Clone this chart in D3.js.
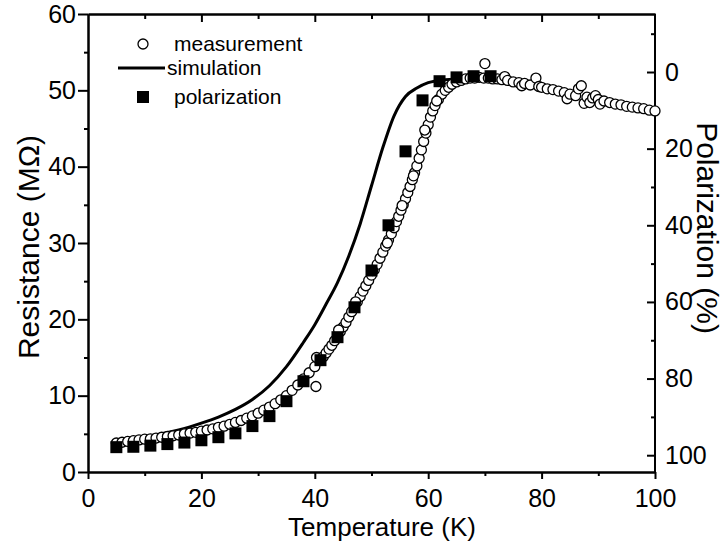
<!DOCTYPE html>
<html>
<head>
<meta charset="utf-8">
<script src="https://d3js.org/d3.v7.min.js"></script>
<style>
  body { margin: 0; background: #fff; }
  text { font-family: "Liberation Sans", Arial, sans-serif; fill: #000; }
</style>
</head>
<body>
<script>
  ////////////// Data //////////////

  // measured resistance (open circles)
  const measT = [5, 6, 7, 8, 9, 10, 11, 12, 13, 14, 15, 16, 17, 18, 19, 20, 21, 22, 23, 24, 25, 26, 27, 28, 29, 30,
    31, 32, 33, 34, 35, 36, 37, 38, 39, 40, 40.2, 40.3, 41, 41.5, 42, 42.5, 43, 43.5, 44, 44.5, 45, 45.5,
    46, 46.5, 47, 47.5, 48, 48.5, 49, 49.5, 50, 50.5, 51, 51.5, 52, 52.5, 53, 53.5, 54, 54.4, 54.8, 55.2,
    55.6, 56, 56.4, 56.8, 57.2, 57.6, 58, 58.4, 58.8, 59.2, 59.6, 60, 60.4, 60.8, 61.2, 61.8, 62.4, 63,
    63.6, 64.2, 65, 65.8, 66.6, 67.4, 68.2, 69, 69.8, 70, 70.6, 71.4, 72.2, 73, 73.5, 74, 75, 76, 76.5, 77, 78, 79,
    79.5, 80, 81, 82, 83, 84, 84.5, 85, 86, 86.5, 87, 87.5, 88, 88.5, 89, 89.5, 90, 90.3, 91, 92, 93, 94, 95, 96, 97, 98, 99, 100,
    // second pass through the transition (slightly offset)
    44.2, 47.2, 50.2, 52.8, 55.4, 57.4, 59.4, 61.5]
  const measR = [3.8, 3.9, 4.0, 4.1, 4.2, 4.3, 4.35, 4.45, 4.55, 4.65, 4.75, 4.85, 5.0, 5.1, 5.2, 5.35, 5.5, 5.65, 5.85, 6.0, 6.25, 6.5, 6.75, 7.05, 7.35, 7.7,
    8.1, 8.5, 8.95, 9.45, 10.0, 10.7, 11.4, 12.2, 13.0, 13.8, 11.2, 15.0, 14.6, 15.1, 15.6, 16.1, 16.6, 17.2, 17.8, 18.4, 19.0, 19.6,
    20.3, 21.0, 21.6, 22.3, 23.0, 23.7, 24.4, 25.1, 25.8, 26.5, 27.2, 28.0, 28.8, 29.6, 30.4, 31.2, 32.0, 32.8, 33.5, 34.3,
    35.0, 35.8, 36.6, 37.4, 38.3, 39.2, 40.1, 41.1, 42.2, 43.3, 44.4, 45.5, 46.5, 47.3, 48.0, 48.8, 49.5, 50.0,
    50.4, 50.8, 51.1, 51.3, 51.5, 51.6, 51.6, 51.7, 51.6, 53.5, 51.6, 51.5, 51.5, 51.4, 51.8, 51.3, 51.1, 51.0, 50.6, 50.9, 50.7, 51.6,
    50.5, 50.4, 50.2, 50.1, 49.9, 49.7, 48.9, 49.5, 49.3, 50.2, 50.6, 48.3, 49.1, 48.4, 49.0, 49.3, 48.8, 48.2, 48.6, 48.4, 48.2, 48.1, 47.9, 47.8, 47.7, 47.6, 47.4, 47.3,
    18.6, 22.3, 26.4, 30.0, 34.9, 38.8, 44.8, 48.6]

  // simulated resistance (solid line)
  const simT = [5, 8, 10, 13, 16, 20, 23, 26, 29, 32, 35, 38, 40, 42, 44, 46, 48, 50, 52, 54, 56, 58, 60, 63, 66, 70]
  const simR = [4.1, 4.4, 4.6, 5.0, 5.5, 6.4, 7.2, 8.2, 9.5, 11.3, 13.8, 17.0, 19.3, 22.0, 24.8, 28.3, 32.5, 37.5,
    42.5, 46.7, 49.2, 50.3, 51.0, 51.4, 51.5, 51.5]

  // polarization (filled squares), right axis in %
  const polT = [5, 8, 11, 14, 17, 20, 23, 26, 29, 32, 35, 38, 41, 44, 47, 50, 53, 56, 59, 62, 65, 68, 71]
  const polP = [97.9, 97.8, 97.5, 97.1, 96.7, 96.1, 95.3, 94.3, 92.4, 89.8, 85.9, 80.7, 75.2, 69.2, 61.4, 51.8,
    40.0, 20.7, 7.4, 2.4, 1.4, 1.1, 1.1]

  const xTicks = [0, 20, 40, 60, 80, 100]
  const yTicks = [0, 10, 20, 30, 40, 50, 60]
  const pTicks = [0, 20, 40, 60, 80, 100]

  const legendLabels = ["measurement", "simulation", "polarization"]

  ////////////// SVG & scales //////////////

  const width = 728, height = 548
  const pLeft = 88, pRight = 655, pTop = 14, pBottom = 472

  const svg = d3.select("body").append("svg")
    .attr("width", width)
    .attr("height", height)

  const x = d3.scaleLinear().domain([0, 100]).range([pLeft, pRight])
  const y = d3.scaleLinear().domain([0, 60]).range([pBottom, pTop])
  // polarization axis is inverted: 0% sits near 52.4 MOhm, 100% near 2.2 MOhm
  const yP = d3.scaleLinear().domain([0, 100]).range([y(52.4), y(2.2)])

  ////////////// Axes //////////////

  function styleAxis(g) {
    g.select(".domain").attr("stroke", "#000").attr("stroke-width", 2)
    g.selectAll(".tick line").attr("stroke", "#000").attr("stroke-width", 2)
    g.selectAll(".tick text").style("font-size", "25px")
  }

  // bottom: major outward + minor outward
  svg.append("g").attr("transform", `translate(0,${pBottom})`)
    .call(d3.axisBottom(x).tickValues(d3.range(10, 100, 20)).tickSize(4).tickSizeOuter(0).tickFormat(""))
    .call(styleAxis)
  svg.append("g").attr("transform", `translate(0,${pBottom})`)
    .call(d3.axisBottom(x).tickValues(xTicks).tickSize(7).tickSizeOuter(0).tickPadding(10))
    .call(styleAxis)

  // top: inward ticks, no labels
  svg.append("g").attr("transform", `translate(0,${pTop})`)
    .call(d3.axisBottom(x).tickValues(d3.range(10, 100, 20)).tickSize(5).tickSizeOuter(0).tickFormat(""))
    .call(styleAxis)
  svg.append("g").attr("transform", `translate(0,${pTop})`)
    .call(d3.axisBottom(x).tickValues(d3.range(20, 100, 20)).tickSize(8).tickSizeOuter(0).tickFormat(""))
    .call(styleAxis)

  // left: outward
  svg.append("g").attr("transform", `translate(${pLeft},0)`)
    .call(d3.axisLeft(y).tickValues(d3.range(5, 60, 10)).tickSize(4).tickSizeOuter(0).tickFormat(""))
    .call(styleAxis)
  svg.append("g").attr("transform", `translate(${pLeft},0)`)
    .call(d3.axisLeft(y).tickValues(yTicks).tickSize(10).tickSizeOuter(0).tickPadding(2))
    .call(styleAxis)

  // right: inward ticks, labels outside
  svg.append("g").attr("transform", `translate(${pRight},0)`)
    .call(d3.axisLeft(yP).tickValues(d3.range(-10, 100, 20)).tickSize(4).tickSizeOuter(0).tickFormat(""))
    .call(styleAxis)
    .select(".domain").remove()
  const rAxis = svg.append("g").attr("transform", `translate(${pRight},0)`)
    .call(d3.axisLeft(yP).tickValues(pTicks).tickSize(8).tickSizeOuter(0))
    .call(styleAxis)
  rAxis.select(".domain").remove()
  rAxis.selectAll(".tick text").attr("x", 10).attr("text-anchor", "start")

  // right frame line
  svg.append("line")
    .attr("x1", pRight).attr("x2", pRight).attr("y1", pTop).attr("y2", pBottom)
    .attr("stroke", "#000").attr("stroke-width", 2)

  ////////////// Axis titles //////////////

  svg.append("text")
    .attr("x", 382).attr("y", 536)
    .attr("text-anchor", "middle").style("font-size", "26px")
    .text("Temperature (K)")

  svg.append("text")
    .attr("transform", "translate(39,247) rotate(-90)")
    .attr("text-anchor", "middle").style("font-size", "30px")
    .text("Resistance (MΩ)")

  svg.append("text")
    .attr("transform", "translate(697,228) rotate(90)")
    .attr("text-anchor", "middle").style("font-size", "30px")
    .text("Polarization (%)")

  ////////////// Marks //////////////

  const sim = simT.map((t, i) => [t, simR[i]])
  svg.append("path")
    .datum(sim)
    .attr("fill", "none")
    .attr("stroke", "#000")
    .attr("stroke-width", 3)
    .attr("d", d3.line().x(d => x(d[0])).y(d => y(d[1])).curve(d3.curveMonotoneX))

  const meas = measT.map((t, i) => [t, measR[i]])
  svg.append("g").selectAll("circle")
    .data(meas)
    .enter().append("circle")
    .attr("cx", d => x(d[0]))
    .attr("cy", d => y(d[1]))
    .attr("r", 5)
    .attr("fill", "#fff")
    .attr("stroke", "#000")
    .attr("stroke-width", 1.3)

  const pol = polT.map((t, i) => [t, polP[i]])
  const sq = 12
  svg.append("g").selectAll("rect")
    .data(pol)
    .enter().append("rect")
    .attr("x", d => x(d[0]) - sq / 2)
    .attr("y", d => yP(d[1]) - sq / 2)
    .attr("width", sq)
    .attr("height", sq)
    .attr("fill", "#000")

  ////////////// Legend //////////////

  const lg = svg.append("g")
  lg.append("circle").attr("cx", 143).attr("cy", 44).attr("r", 5)
    .attr("fill", "#fff").attr("stroke", "#000").attr("stroke-width", 1.3)
  lg.append("line").attr("x1", 118).attr("x2", 165).attr("y1", 68).attr("y2", 68)
    .attr("stroke", "#000").attr("stroke-width", 3)
  lg.append("rect").attr("x", 143 - sq / 2).attr("y", 97 - sq / 2).attr("width", sq).attr("height", sq)
    .attr("fill", "#000")

  const legendX = [174, 167, 174]
  const legendY = [51, 75, 104]
  legendLabels.forEach((s, i) => {
    lg.append("text").attr("x", legendX[i]).attr("y", legendY[i])
      .style("font-size", "21px").text(s)
  })
</script>
</body>
</html>
